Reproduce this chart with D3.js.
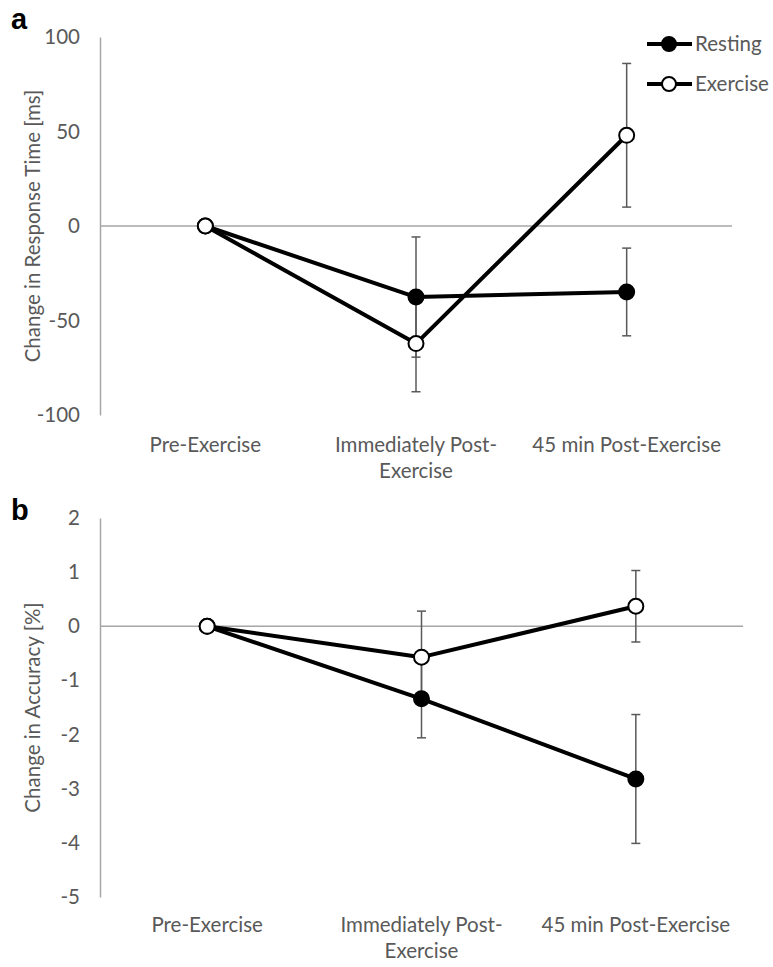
<!DOCTYPE html>
<html>
<head>
<meta charset="utf-8">
<script src="https://cdn.jsdelivr.net/npm/d3@7"></script>
<style>
  body { margin: 0; background: #fff; }
  svg { display: block; }
  text { font-family: Lato, "Open Sans", sans-serif; }
</style>
</head>
<body>
<svg id="chart" width="773" height="967"></svg>
<script>
// ---- Data ----
const categories = ["Pre-Exercise", "Immediately Post-Exercise", "45 min Post-Exercise"];
const categoryLines = [["Pre-Exercise"], ["Immediately Post-", "Exercise"], ["45 min Post-Exercise"]];
const seriesNames = ["Resting", "Exercise"];

// Panel a: change in response time [ms]
const rtResting = [0, -37.6, -34.9];
const rtRestingErr = [0, 31.8, 23.2];
const rtExercise = [0, -62.2, 48.0];
const rtExerciseErr = [0, 25.5, 38.0];
const rtTicks = [-100, -50, 0, 50, 100];

// Panel b: change in accuracy [%]
const accResting = [0, -1.34, -2.82];
const accRestingErr = [0, 0.72, 1.19];
const accExercise = [0, -0.57, 0.37];
const accExerciseErr = [0, 0.85, 0.66];
const accTicks = [-5, -4, -3, -2, -1, 0, 1, 2];

// ---- Drawing ----
const svg = d3.select("#chart");
const grey = "#595959";
const fs = "20.5px";

function panel(opts) {
  const g = svg.append("g");
  const x = d3.scalePoint().domain(categories).range([opts.left, opts.right]).padding(0.5);
  const y = d3.scaleLinear().domain(opts.domain).range([opts.bottom, opts.top]);

  // y axis
  const ax = g.append("g").attr("transform", `translate(${opts.left},0)`)
    .call(d3.axisLeft(y).tickValues(opts.ticks).tickFormat(d => String(d))
      .tickSizeInner(0).tickSizeOuter(0).tickPadding(20));
  ax.select(".domain").attr("stroke", "#a6a6a6").attr("stroke-width", 1.5);
  ax.selectAll(".tick text").attr("fill", grey).style("font-size", fs).style("font-family", "Lato, sans-serif");

  // zero line
  g.append("line").attr("x1", opts.left).attr("x2", opts.right)
    .attr("y1", y(0)).attr("y2", y(0)).attr("stroke", "#a6a6a6").attr("stroke-width", 1.5);

  // x labels
  categories.forEach((c, i) => {
    const t = g.append("text").attr("x", x(c)).attr("y", opts.xLabelY)
      .attr("text-anchor", "middle").attr("fill", grey).style("font-size", fs);
    categoryLines[i].forEach((ln, j) => {
      t.append("tspan").attr("x", x(c)).attr("dy", j === 0 ? 0 : 26).text(ln);
    });
  });

  // y title
  g.append("text")
    .attr("transform", `translate(${opts.titleX},${(opts.top + opts.bottom) / 2}) rotate(-90)`)
    .attr("text-anchor", "middle").attr("fill", grey).style("font-size", fs)
    .text(opts.title);

  // panel letter
  g.append("text").attr("x", 11).attr("y", opts.letterY)
    .style("font-family", "'Liberation Sans', Arial, sans-serif").style("font-weight", "bold")
    .style("font-size", "29px").attr("fill", "#000").text(opts.letter);

  const series = [
    { name: "Resting", vals: opts.resting, err: opts.restingErr, fill: "#000" },
    { name: "Exercise", vals: opts.exercise, err: opts.exerciseErr, fill: "#fff" }
  ];

  // error bars
  series.forEach(s => {
    categories.forEach((c, i) => {
      if (!s.err[i]) return;
      const cx = x(c), y1 = y(s.vals[i] + s.err[i]), y2 = y(s.vals[i] - s.err[i]);
      g.append("line").attr("x1", cx).attr("x2", cx).attr("y1", y1).attr("y2", y2)
        .attr("stroke", grey).attr("stroke-width", 1.5);
      [y1, y2].forEach(yy => g.append("line").attr("x1", cx - 4.5).attr("x2", cx + 4.5)
        .attr("y1", yy).attr("y2", yy).attr("stroke", grey).attr("stroke-width", 1.5));
    });
  });

  const line = d3.line().x((d, i) => x(categories[i])).y(d => y(d));
  series.forEach(s => {
    g.append("path").datum(s.vals).attr("d", line).attr("fill", "none")
      .attr("stroke", "#000").attr("stroke-width", 4).attr("stroke-linejoin", "round");
    g.selectAll(null).data(s.vals).enter().append("circle")
      .attr("cx", (d, i) => x(categories[i])).attr("cy", d => y(d)).attr("r", 7.5)
      .attr("fill", s.fill).attr("stroke", "#000").attr("stroke-width", 2);
  });
  return { x, y };
}

panel({
  left: 100, right: 732, top: 37, bottom: 415, domain: [-100, 100], ticks: rtTicks,
  resting: rtResting, restingErr: rtRestingErr, exercise: rtExercise, exerciseErr: rtExerciseErr,
  xLabelY: 452, titleX: 40, title: "Change in Response Time [ms]", letter: "a", letterY: 29
});
panel({
  left: 100, right: 743, top: 518, bottom: 897, domain: [-5, 2], ticks: accTicks,
  resting: accResting, restingErr: accRestingErr, exercise: accExercise, exerciseErr: accExerciseErr,
  xLabelY: 932, titleX: 40, title: "Change in Accuracy [%]", letter: "b", letterY: 520
});

// legend
const legend = svg.append("g");
seriesNames.forEach((n, i) => {
  const ly = 44 + i * 40;
  legend.append("line").attr("x1", 647).attr("x2", 692).attr("y1", ly).attr("y2", ly)
    .attr("stroke", "#000").attr("stroke-width", 4);
  legend.append("circle").attr("cx", 669).attr("cy", ly).attr("r", 7)
    .attr("fill", i === 0 ? "#000" : "#fff").attr("stroke", "#000").attr("stroke-width", 2);
  legend.append("text").attr("x", 695).attr("y", ly + 7).attr("fill", grey)
    .style("font-size", fs).text(n);
});
</script>
</body>
</html>
